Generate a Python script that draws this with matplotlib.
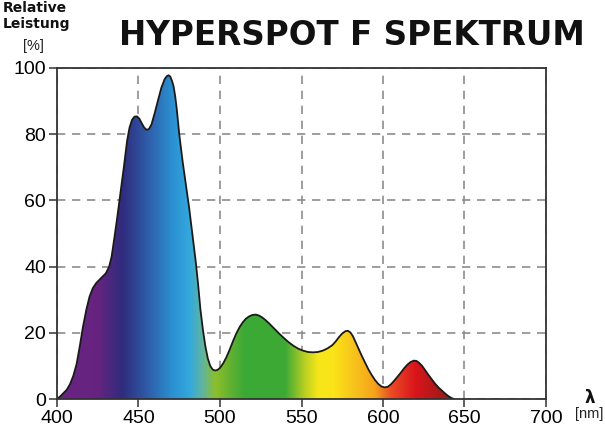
import numpy as np
import matplotlib
matplotlib.use("Agg")
import matplotlib.pyplot as plt
from matplotlib.colors import LinearSegmentedColormap

# spectrum (wavelength nm, relative power %)
wavelength = [400, 402, 404, 406, 408, 410, 412, 414, 416, 418, 420, 422, 424, 426, 428,
              430, 432, 433.5, 435, 437, 439, 441, 443, 444.5, 446, 447.5, 449, 450.5,
              452, 453.5, 455, 456.5, 458, 460, 462, 464, 466, 467.5, 468.5, 469.5,
              470.5, 471.5, 472.5, 473.5, 475, 477, 479, 481, 483, 485, 486.5, 488,
              489.5, 491, 492.5, 494, 495.5, 497, 498.5, 500, 502, 504, 506, 508, 510,
              512, 514, 516, 518, 520, 522, 524, 526, 528, 530, 533, 536, 539, 542,
              545, 548, 551, 554, 557, 560, 563, 566, 569, 571, 573, 575, 577, 578.5,
              580, 581.5, 583, 585, 587, 589, 591, 593, 595, 597, 599, 601, 603, 605,
              607, 609, 611, 613, 615, 617, 619, 620.5, 622, 624, 626, 628, 630, 632,
              634, 636, 638, 640, 642, 643.5]
power = [0, 0.8, 1.8, 2.8, 4.5, 7, 10.5, 16, 22, 27, 31, 33.5, 35, 36, 37,
         38, 40, 43, 48, 55, 62.5, 70, 78, 82, 84.3, 85.3, 85.4, 84.7,
         83.3, 82, 81.3, 81.6, 83, 86.5, 90.3, 94, 96.6, 97.6, 97.8, 97.4,
         96.2, 94.5, 91.5, 87.5, 80, 72, 65, 58, 50, 42, 35, 27,
         21, 16, 12.3, 10, 8.9, 8.6, 8.8, 9.4, 10.8, 12.7, 15, 17.5, 19.8,
         21.7, 23.2, 24.3, 25, 25.4, 25.5, 25.2, 24.6, 23.8, 22.9, 21.4, 19.9, 18.5, 17.2,
         16.1, 15.2, 14.6, 14.2, 14.1, 14.2, 14.6, 15.3, 16.3, 17.4, 18.7, 19.8, 20.5, 20.6,
         20.1, 19, 17.4, 15.2, 13, 11, 9, 7.3, 5.8, 4.6, 3.8, 3.5, 3.7, 4.5,
         5.6, 6.8, 8, 9.3, 10.4, 11.2, 11.6, 11.5, 11, 10, 8.6, 7.2, 5.9, 4.6,
         3.5, 2.6, 1.7, 0.9, 0.3, 0]

x_ticks = [400, 450, 500, 550, 600, 650, 700]
y_ticks = [0, 20, 40, 60, 80, 100]

# colour of the fill along the wavelength axis
color_stops = [(400, "#6b2384"), (425, "#65247f"), (440, "#2e2c7d"), (455, "#2f5ba8"),
               (470, "#2a8fcf"), (481, "#33a8de"), (489, "#5fb4a0"), (497, "#8cbf2b"),
               (506, "#62b231"), (515, "#3ba935"), (540, "#3ea935"), (552, "#b9d022"),
               (560, "#f6e619"), (570, "#fbe318"), (580, "#f8c81b"), (595, "#f5a21c"),
               (605, "#ea4b24"), (620, "#d9151b"), (635, "#a81a1a"), (645, "#8b1a1a")]

lo, hi = color_stops[0][0], color_stops[-1][0]
cmap = LinearSegmentedColormap.from_list(
    "spec", [((w - lo) / (hi - lo), c) for w, c in color_stops])

fig = plt.figure(figsize=(6.05, 4.28), dpi=100)
ax = fig.add_axes([57 / 605, 29 / 428, 489 / 605, 331 / 428])

grad = np.linspace(0, 1, 512).reshape(1, -1)
im = ax.imshow(grad, cmap=cmap, aspect="auto", extent=[lo, hi, 0, 100],
               origin="lower", zorder=1)
poly = ax.fill_between(wavelength, power, 0, color="none", lw=0)
clip = poly.get_paths()[0]
im.set_clip_path(clip, transform=ax.transData)
ax.plot(wavelength, power, color="#1a1a1a", lw=1.3, zorder=3,
        solid_joinstyle="round", solid_capstyle="round")

ax.set_xlim(400, 700)
ax.set_ylim(0, 100)
ax.set_xticks(x_ticks)
ax.set_yticks(y_ticks)
ax.grid(True, color="#8c8c8c", linestyle=(0, (5, 4)), lw=1.2, zorder=0)
ax.set_axisbelow(True)
for s in ax.spines.values():
    s.set_color("#333333")
    s.set_linewidth(1.3)
    s.set_zorder(4)
ax.tick_params(direction="out", length=6, width=1.1, color="#333333",
               labelsize=14, pad=2)
for lab in ax.get_xticklabels() + ax.get_yticklabels():
    lab.set_fontfamily("Liberation Sans")

fig.text(0.582, 0.918, "HYPERSPOT F SPEKTRUM", ha="center", va="center",
         fontsize=23.5, fontweight="bold", color="#111111")
fig.text(0.005, 0.998, "Relative\nLeistung", ha="left", va="top",
         fontsize=10, fontweight="bold", linespacing=1.15, color="#111111")
fig.text(0.055, 0.892, "[%]", ha="center", va="center", fontsize=10.5,
         fontfamily="Liberation Sans", color="#222222")
fig.text(0.974, 0.071, "λ", ha="center", va="center", fontsize=12,
         fontweight="bold", color="#111111")
fig.text(0.974, 0.033, "[nm]", ha="center", va="center", fontsize=10.5,
         fontfamily="Liberation Sans", color="#222222")

fig.savefig("out.png", dpi=100)
